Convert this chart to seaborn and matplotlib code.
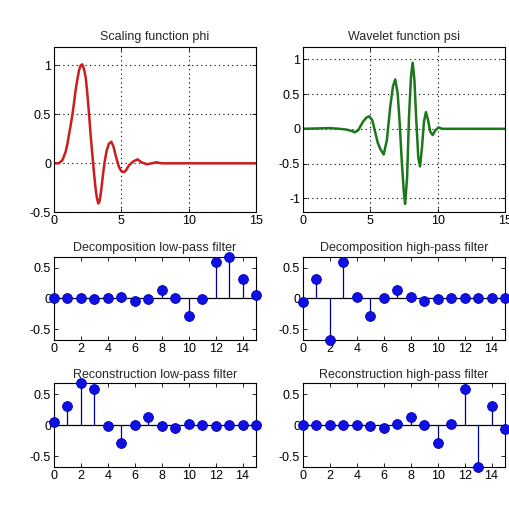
import matplotlib
matplotlib.use("Agg")
import matplotlib.pyplot as plt
import seaborn as sns
import pandas as pd

# ---- data ----
phi_t = [0, 0.35, 0.62, 0.87, 1.0, 1.11, 1.24, 1.36, 1.49, 1.61, 1.74, 1.86, 1.98, 2.10,
         2.23, 2.35, 2.45, 2.55, 2.63, 2.72, 2.82, 2.92, 3.0, 3.09, 3.18, 3.29, 3.38, 3.47,
         3.56, 3.66, 3.78, 3.91, 4.08, 4.26, 4.42, 4.58, 4.70, 4.83, 5.0, 5.2, 5.35, 5.57,
         5.9, 6.2, 6.5, 6.9, 7.25, 7.6, 8.0, 15]
phi_v = [0, 0, 0.03, 0.12, 0.20, 0.29, 0.39, 0.49, 0.62, 0.75, 0.86, 0.95, 1.00, 1.01,
         0.96, 0.88, 0.75, 0.59, 0.45, 0.29, 0.13, -0.02, -0.14, -0.26, -0.35, -0.41, -0.39, -0.31,
         -0.21, -0.09, 0.03, 0.13, 0.20, 0.22, 0.17, 0.08, 0.02, -0.04, -0.08, -0.09, -0.07, -0.02,
         0.02, 0.04, 0.01, -0.01, 0.00, 0.01, 0, 0]

psi_t = [0, 2.0, 2.7, 3.2, 3.6, 3.85, 4.1, 4.45, 4.7, 4.92, 5.15, 5.35, 5.55, 5.74, 5.99,
         6.23, 6.48, 6.68, 6.85, 7.03, 7.18, 7.33, 7.48, 7.58, 7.73, 7.87, 8.02, 8.14, 8.27,
         8.41, 8.56, 8.69, 8.84, 8.98, 9.13, 9.28, 9.45, 9.63, 9.83, 10.07, 10.32, 11, 15]
psi_v = [0, 0.01, 0, -0.01, -0.03, -0.05, -0.02, 0.10, 0.16, 0.18, 0.12, -0.04, -0.20, -0.29, -0.37,
         -0.16, 0.32, 0.61, 0.71, 0.51, 0.08, -0.45, -0.89, -1.08, -0.70, 0.17, 0.75, 0.95, 0.71,
         0.13, -0.41, -0.54, -0.26, 0.10, 0.24, 0.13, -0.04, -0.09, -0.02, 0.02, 0, 0, 0]

k = list(range(16))
dec_lo = [-0.0001, 0.0007, -0.0004, -0.0049, 0.0087, 0.0140, -0.0441, -0.0174,
          0.1287, 0.0005, -0.2840, -0.0158, 0.5854, 0.6756, 0.3129, 0.0544]
dec_hi = [-0.0544, 0.3129, -0.6756, 0.5854, 0.0158, -0.2840, -0.0005, 0.1287,
          0.0174, -0.0441, -0.0140, 0.0087, 0.0049, -0.0004, -0.0007, -0.0001]
rec_lo = [0.0544, 0.3129, 0.6756, 0.5854, -0.0158, -0.2840, 0.0005, 0.1287,
          -0.0174, -0.0441, 0.0140, 0.0087, -0.0049, -0.0004, 0.0007, -0.0001]
rec_hi = [-0.0001, -0.0007, -0.0004, 0.0049, 0.0087, -0.0140, -0.0441, 0.0174,
          0.1287, -0.0005, -0.2840, 0.0158, 0.5854, -0.6756, 0.3129, -0.0544]

titles = ["Scaling function phi", "Wavelet function psi",
          "Decomposition low-pass filter", "Decomposition high-pass filter",
          "Reconstruction low-pass filter", "Reconstruction high-pass filter"]

sns.set_theme(style="white")
plt.rcParams["font.family"] = ["Liberation Sans", "DejaVu Sans"]
plt.rcParams["font.size"] = 9

W, H = 509, 507
fig = plt.figure(figsize=(W / 100, H / 100), dpi=100)
fig.patch.set_facecolor("white")


def box(x0, x1, y0, y1):
    return [x0 / W, 1 - y1 / H, (x1 - x0) / W, (y1 - y0) / H]


def style(ax):
    for s in ax.spines.values():
        s.set_color("black")
        s.set_linewidth(0.8)
        s.set_visible(True)
    ax.tick_params(direction="in", length=3, width=0.6, colors="black",
                   labelsize=9, top=True, right=True, bottom=True, left=True, pad=2)
    ax.set_facecolor("white")


def curve(ax, t, v, color, title, yticks, ylim):
    df = pd.DataFrame({"t": t, "v": v})
    sns.lineplot(data=df, x="t", y="v", ax=ax, color=color, linewidth=1.8)
    ax.set_xlim(0, 15)
    ax.set_ylim(*ylim)
    ax.set_xticks([0, 5, 10, 15])
    ax.set_yticks(yticks)
    ax.set_yticklabels([f"{y:g}" for y in yticks])
    ax.grid(True, color="black", linestyle=(0, (1, 3)), linewidth=0.8)
    ax.set_xlabel("")
    ax.set_ylabel("")
    ax.set_title(title, fontsize=9, pad=5)
    style(ax)


def stem(ax, vals, title):
    df = pd.DataFrame({"k": k, "v": vals})
    ax.axhline(0, color="black", linewidth=0.9, zorder=1)
    ax.vlines(df["k"], 0, df["v"], color="#000090", linewidth=0.9, zorder=2)
    sns.scatterplot(data=df, x="k", y="v", ax=ax, s=50, color="#1010e0",
                    edgecolor="#0000c8", linewidth=0.6, zorder=3, clip_on=False)
    ax.set_xlim(0, 15)
    ax.set_ylim(-0.6756, 0.6756)
    ax.set_xticks(list(range(0, 15, 2)))
    ax.set_yticks([-0.5, 0, 0.5])
    ax.set_yticklabels(["-0.5", "0", "0.5"])
    ax.set_xlabel("")
    ax.set_ylabel("")
    ax.set_title(title, fontsize=9, pad=4)
    style(ax)


ax1 = fig.add_axes(box(54, 256, 46.7, 212.3))
ax2 = fig.add_axes(box(303, 505, 46.7, 212.3))
ax3 = fig.add_axes(box(54, 256, 256.7, 340))
ax4 = fig.add_axes(box(303, 505, 256.7, 340))
ax5 = fig.add_axes(box(54, 256, 383.3, 467.3))
ax6 = fig.add_axes(box(303, 505, 383.3, 467.3))

curve(ax1, phi_t, phi_v, "#cc1c1c", titles[0], [-0.5, 0, 0.5, 1], (-0.5, 1.19))
curve(ax2, psi_t, psi_v, "#1a781a", titles[1], [-1, -0.5, 0, 0.5, 1], (-1.2, 1.18))
stem(ax3, dec_lo, titles[2])
stem(ax4, dec_hi, titles[3])
stem(ax5, rec_lo, titles[4])
stem(ax6, rec_hi, titles[5])

fig.savefig("out.png", dpi=100, facecolor="white")
